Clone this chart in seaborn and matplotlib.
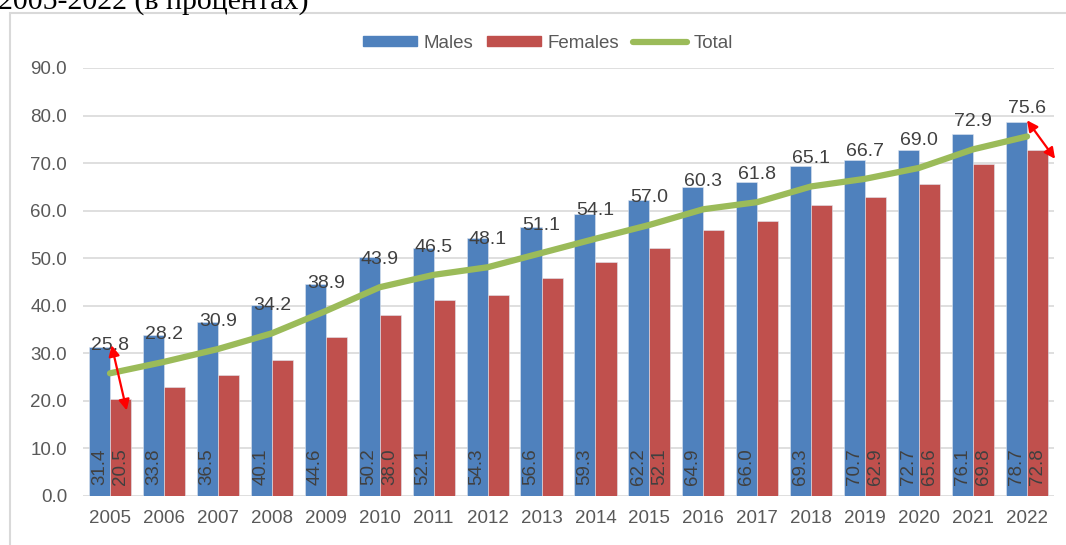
import numpy as np
import pandas as pd
import matplotlib.pyplot as plt
import seaborn as sns
from matplotlib.patches import Patch, Rectangle
from matplotlib.lines import Line2D

# data
years = [2005, 2006, 2007, 2008, 2009, 2010, 2011, 2012, 2013,
         2014, 2015, 2016, 2017, 2018, 2019, 2020, 2021, 2022]
males = [31.4, 33.8, 36.5, 40.1, 44.6, 50.2, 52.1, 54.3, 56.6,
         59.3, 62.2, 64.9, 66.0, 69.3, 70.7, 72.7, 76.1, 78.7]
females = [20.5, 22.9, 25.5, 28.5, 33.5, 38.0, 41.3, 42.3, 45.9,
           49.2, 52.1, 55.9, 57.8, 61.1, 62.9, 65.6, 69.8, 72.8]
total = [25.8, 28.2, 30.9, 34.2, 38.9, 43.9, 46.5, 48.1, 51.1,
         54.1, 57.0, 60.3, 61.8, 65.1, 66.7, 69.0, 72.9, 75.6]
# only these female bars carry a value label in the original
female_labelled = [2005, 2010, 2015, 2019, 2020, 2021, 2022]

BLUE = '#4F81BD'
RED = '#C0504D'
GREEN = '#9BBB59'
GRID = '#d9d9d9'
TXT = '#595959'
LAB = '#404040'

sns.set_style('white')
plt.rcParams['font.family'] = ['Liberation Sans', 'DejaVu Sans']

df = pd.DataFrame({
    'year': [str(y) for y in years] * 2,
    'sex': ['Males'] * len(years) + ['Females'] * len(years),
    'value': males + females,
})

fig = plt.figure(figsize=(10.66, 5.45), dpi=100)
ax = fig.add_axes([83 / 1066, 1 - 496 / 545, (1054 - 83) / 1066, (496 - 68) / 545])

sns.barplot(data=df, x='year', y='value', hue='sex', palette=[BLUE, RED],
            width=0.78, saturation=1, legend=False, ax=ax,
            edgecolor='#dfe6f0', linewidth=0.4)
sns.lineplot(x=np.arange(len(years)), y=total, color=GREEN, lw=4.5,
             solid_capstyle='round', legend=False, ax=ax)

ax.set_xlim(-0.5, len(years) - 0.5)
ax.set_ylim(0, 90)
ax.set_yticks(np.arange(0, 91, 10))
ax.set_yticklabels([f'{v:.1f}' for v in np.arange(0, 91, 10)])
ax.set_xlabel('')
ax.set_ylabel('')
ax.yaxis.grid(True, color=GRID, lw=1.2)
ax.set_axisbelow(True)
for s in ax.spines.values():
    s.set_visible(False)
ax.tick_params(axis='both', length=0, labelsize=13.5, colors=TXT)
ax.tick_params(axis='x', pad=10)
ax.tick_params(axis='y', pad=11.5)

# value labels inside bars
male_bars, female_bars = ax.containers[0], ax.containers[1]
for i, (bm, bf) in enumerate(zip(male_bars, female_bars)):
    ax.text(bm.get_x() + bm.get_width() / 2, 2.3, f'{males[i]:.1f}',
            rotation=90, ha='center', va='bottom', fontsize=13.5, color=LAB)
    if years[i] in female_labelled:
        ax.text(bf.get_x() + bf.get_width() / 2, 2.3, f'{females[i]:.1f}',
                rotation=90, ha='center', va='bottom', fontsize=13.5, color=LAB)

# total labels above the line
for i, v in enumerate(total):
    ax.annotate(f'{v:.1f}', (i, v), xytext=(0, 20), textcoords='offset points',
                ha='center', va='center', fontsize=14, color=LAB)

# red double arrows (gap between males and females)
arrow = dict(arrowstyle='<|-|>', color='red', lw=1.6, mutation_scale=16,
             shrinkA=0, shrinkB=0)
ax.annotate('', xy=(0.03, 31.7), xytext=(0.31, 18.0), arrowprops=arrow,
            annotation_clip=False)
ax.annotate('', xy=(17.0, 79.0), xytext=(17.52, 70.9), arrowprops=arrow,
            annotation_clip=False)

handles = [Patch(color=BLUE, label='Males'),
           Patch(color=RED, label='Females'),
           Line2D([], [], color=GREEN, lw=4.5, solid_capstyle='round', label='Total')]
leg = fig.legend(handles=handles, loc='center', bbox_to_anchor=(0.514, 1 - 43 / 545),
                 ncol=3, frameon=False, fontsize=13.5, handlelength=2.9,
                 handleheight=0.5, handletextpad=0.35, columnspacing=0.7)
for t in leg.get_texts():
    t.set_color(TXT)

# chart frame and the cut-off caption above it
fig.add_artist(Rectangle((10 / 1066, -0.1), 2, 1 - 13 / 545 + 0.1,
                         transform=fig.transFigure, fill=False,
                         edgecolor=GRID, lw=1.5))
fig.text(-2 / 1066, 1 - 9 / 545, '2005-2022 (в процентах)', ha='left',
         va='baseline', fontsize=21.5, color='black', family=['Liberation Serif'])

fig.savefig('out.png', dpi=100)
